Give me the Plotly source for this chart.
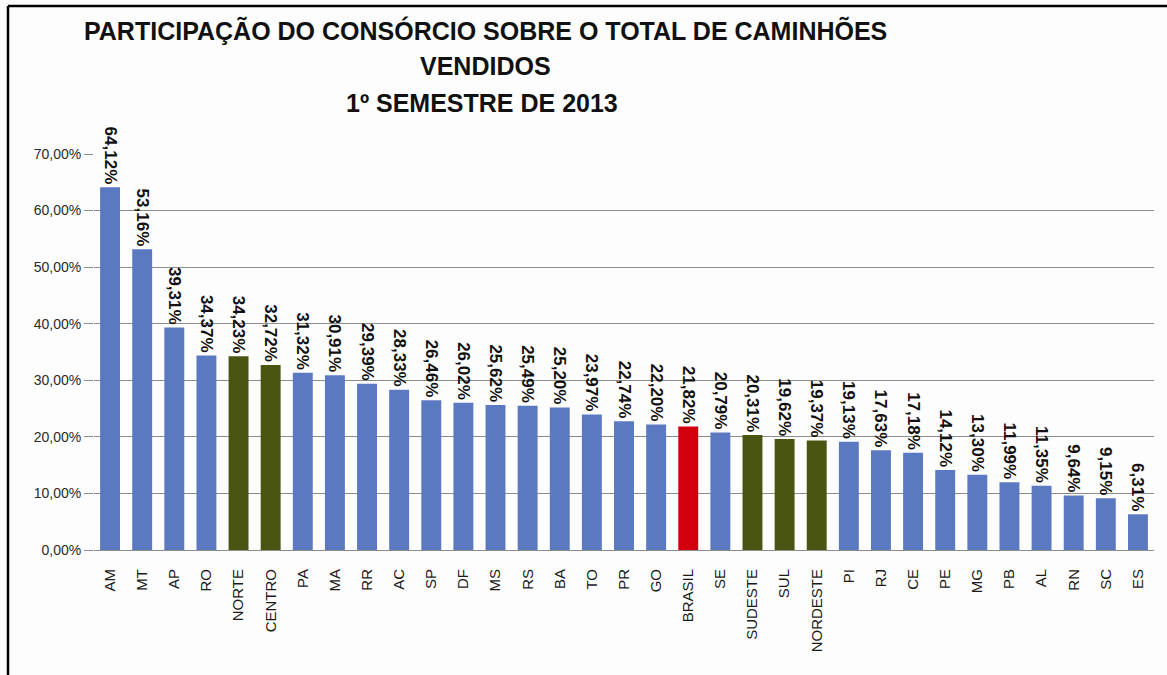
import plotly.graph_objects as go

categories = ["AM", "MT", "AP", "RO", "NORTE", "CENTRO", "PA", "MA", "RR", "AC", "SP", "DF",
              "MS", "RS", "BA", "TO", "PR", "GO", "BRASIL", "SE", "SUDESTE", "SUL", "NORDESTE",
              "PI", "RJ", "CE", "PE", "MG", "PB", "AL", "RN", "SC", "ES"]
values = [64.12, 53.16, 39.31, 34.37, 34.23, 32.72, 31.32, 30.91, 29.39, 28.33, 26.46, 26.02,
          25.62, 25.49, 25.20, 23.97, 22.74, 22.20, 21.82, 20.79, 20.31, 19.62, 19.37,
          19.13, 17.63, 17.18, 14.12, 13.30, 11.99, 11.35, 9.64, 9.15, 6.31]
regions = {"NORTE", "CENTRO", "SUDESTE", "SUL", "NORDESTE"}
national = {"BRASIL"}
title_lines = ["PARTICIPAÇÃO DO CONSÓRCIO SOBRE O TOTAL DE CAMINHÕES", "VENDIDOS",
               "1º SEMESTRE DE 2013"]

BLUE = "#5B79C1"
GREEN = "#4A5511"
RED = "#D2000E"
colors = [RED if c in national else GREEN if c in regions else BLUE for c in categories]

W, H = 1167, 675
L, R, T, B = 94, 13, 154, 125
PW, PH = W - L - R, H - T - B

fig = go.Figure(go.Bar(
    x=categories, y=values,
    marker=dict(color=colors, line=dict(width=0)),
    texttemplate="%{y:.2f}%", textposition="outside", textangle=90,
    constraintext="none",
    textfont=dict(family="Liberation Sans", size=17, color="#111111", weight="bold"),
    cliponaxis=False,
))

fig.update_layout(
    width=W, height=H,
    separators=",.",
    paper_bgcolor="#FDFDFD", plot_bgcolor="#FDFDFD",
    margin=dict(l=L, r=R, t=T, b=B, autoexpand=False),
    bargap=0.38,
    showlegend=False,
    font=dict(family="Liberation Sans", color="#222222"),
    xaxis=dict(tickangle=-90, tickfont=dict(size=15, color="#1A1A1A"), showline=False,
               ticks="outside", ticklen=12, tickcolor="rgba(0,0,0,0)", showgrid=False),
    yaxis=dict(range=[0, 70], dtick=10, tickformat=".2f", ticksuffix="%",
               tickfont=dict(size=14, color="#2A2A2A"), showgrid=True, gridcolor="#8C8C8C",
               gridwidth=1, zeroline=True, zerolinecolor="#8C8C8C", zerolinewidth=1,
               ticks="outside", ticklen=9, tickcolor="#8C8C8C"),
)

def py(v):
    return (H - B - v) / PH

def px(v):
    return (v - L) / PW

for line, yc, xc in zip(title_lines, [30, 66, 103], [485, 485, 482]):
    fig.add_annotation(
        text=line, xref="paper", yref="paper", x=px(xc), y=py(yc),
        xanchor="center", yanchor="middle", showarrow=False,
        font=dict(family="Liberation Sans", size=25, color="#111111", weight="bold"),
    )

# frame lines (top and left border of the original picture)
fig.add_shape(type="line", xref="paper", yref="paper",
              x0=px(8), x1=px(W), y0=py(6), y1=py(6),
              line=dict(color="#000000", width=2.5))
fig.add_shape(type="line", xref="paper", yref="paper",
              x0=px(8), x1=px(8), y0=py(6), y1=py(H),
              line=dict(color="#000000", width=2.5))

fig.write_html("out.html", config={"displayModeBar": False},
               post_script="document.body.style.margin='0';")
